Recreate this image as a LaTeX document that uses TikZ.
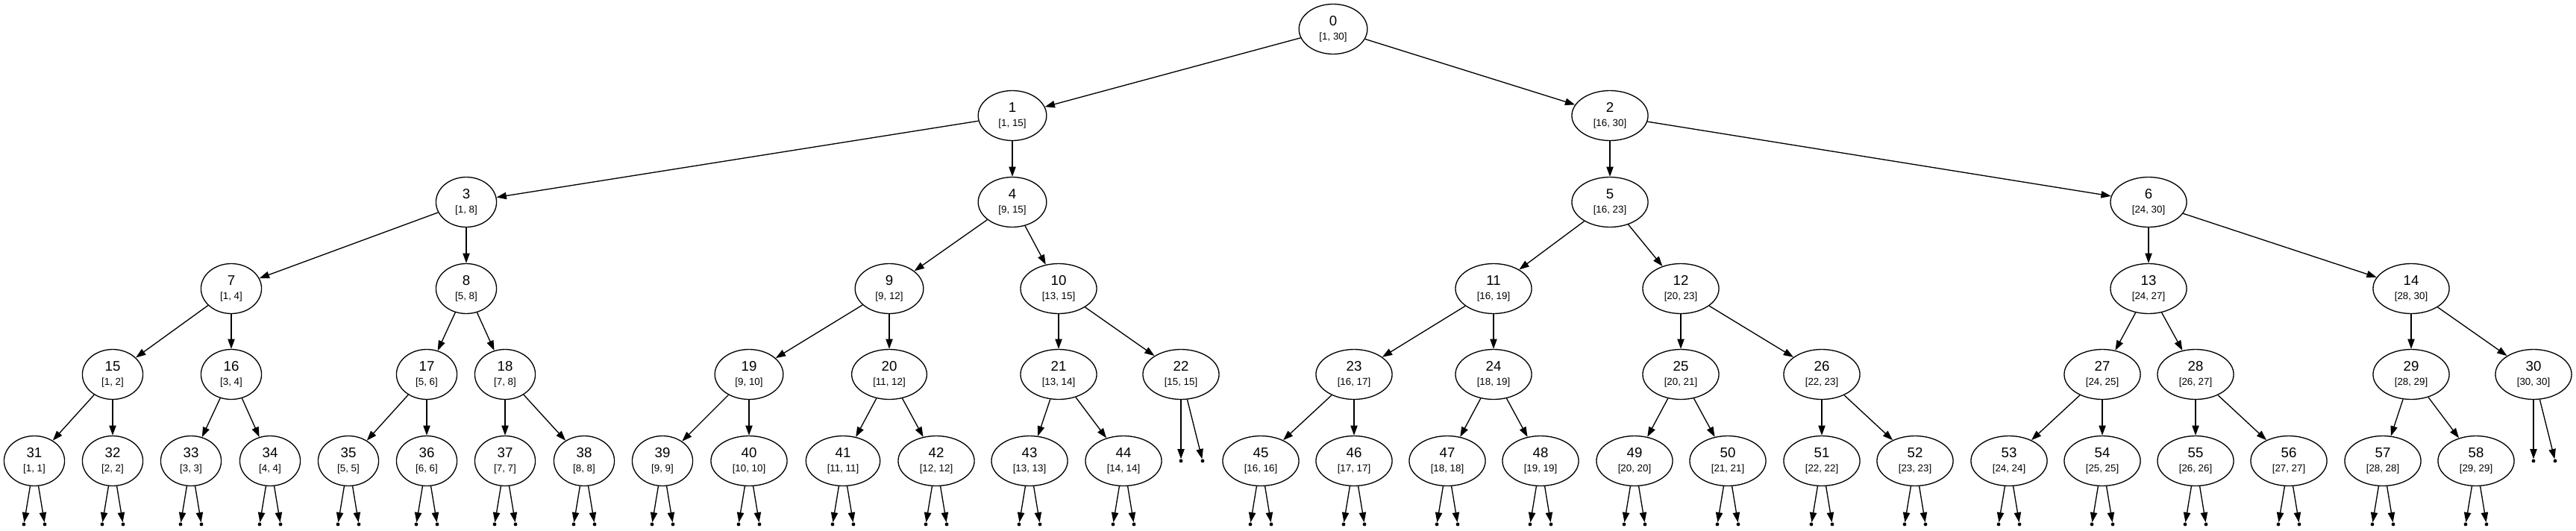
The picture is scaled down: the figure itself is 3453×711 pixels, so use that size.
\documentclass[tikz,border=0pt]{standalone}
\usepackage{fontspec}
\setmainfont{Liberation Sans}
\usetikzlibrary{shapes,arrows.meta}

\tikzset{
  seg/.style={ellipse,draw,line width=1pt,inner xsep=10.4pt,inner ysep=0pt,
    minimum height=50.25pt,align=center,font=\fontsize{14}{14.25}\selectfont},
  leafdot/.style={circle,fill,inner sep=0pt,minimum size=3.6pt},
  link/.style={-{Triangle[length=10pt,width=7pt]},line width=1pt}
}
\newcommand\rng[1]{{\fontsize{10}{14.25}\selectfont #1}}

\begin{document}
\begin{tikzpicture}[x=0.75pt,y=-0.75pt]
\useasboundingbox (0,0) rectangle (3453,711);
% level 0 - 2
\node[seg] (n0) at (1787,39) {0\\\rng{[1, 30]}};
\node[seg] (n1) at (1357,155) {1\\\rng{[1, 15]}};
\node[seg] (n2) at (2158,155) {2\\\rng{[16, 30]}};
\node[seg] (n3) at (625,271) {3\\\rng{[1, 8]}};
\node[seg] (n4) at (1357,271) {4\\\rng{[9, 15]}};
\node[seg] (n5) at (2158,271) {5\\\rng{[16, 23]}};
\node[seg] (n6) at (2880,271) {6\\\rng{[24, 30]}};
% level 3
\node[seg] (n7) at (310,387) {7\\\rng{[1, 4]}};
\node[seg] (n8) at (625,387) {8\\\rng{[5, 8]}};
\node[seg] (n9) at (1192,387) {9\\\rng{[9, 12]}};
\node[seg] (n10) at (1419,387) {10\\\rng{[13, 15]}};
\node[seg] (n11) at (2002,387) {11\\\rng{[16, 19]}};
\node[seg] (n12) at (2253,387) {12\\\rng{[20, 23]}};
\node[seg] (n13) at (2880,387) {13\\\rng{[24, 27]}};
\node[seg] (n14) at (3232,387) {14\\\rng{[28, 30]}};
% level 4
\node[seg] (n15) at (151,502) {15\\\rng{[1, 2]}};
\node[seg] (n16) at (310,502) {16\\\rng{[3, 4]}};
\node[seg] (n17) at (572,502) {17\\\rng{[5, 6]}};
\node[seg] (n18) at (677,502) {18\\\rng{[7, 8]}};
\node[seg] (n19) at (1004,502) {19\\\rng{[9, 10]}};
\node[seg] (n20) at (1192,502) {20\\\rng{[11, 12]}};
\node[seg] (n21) at (1419,502) {21\\\rng{[13, 14]}};
\node[seg] (n22) at (1583,502) {22\\\rng{[15, 15]}};
\node[seg] (n23) at (1815,502) {23\\\rng{[16, 17]}};
\node[seg] (n24) at (2002,502) {24\\\rng{[18, 19]}};
\node[seg] (n25) at (2253,502) {25\\\rng{[20, 21]}};
\node[seg] (n26) at (2442,502) {26\\\rng{[22, 23]}};
\node[seg] (n27) at (2818,502) {27\\\rng{[24, 25]}};
\node[seg] (n28) at (2943,502) {28\\\rng{[26, 27]}};
\node[seg] (n29) at (3232,502) {29\\\rng{[28, 29]}};
\node[seg] (n30) at (3396,502) {30\\\rng{[30, 30]}};
% level 5
\node[seg] (n31) at (46,618) {31\\\rng{[1, 1]}};
\node[seg] (n32) at (151,618) {32\\\rng{[2, 2]}};
\node[seg] (n33) at (256,618) {33\\\rng{[3, 3]}};
\node[seg] (n34) at (362,618) {34\\\rng{[4, 4]}};
\node[seg] (n35) at (467,618) {35\\\rng{[5, 5]}};
\node[seg] (n36) at (572,618) {36\\\rng{[6, 6]}};
\node[seg] (n37) at (677,618) {37\\\rng{[7, 7]}};
\node[seg] (n38) at (783,618) {38\\\rng{[8, 8]}};
\node[seg] (n39) at (888,618) {39\\\rng{[9, 9]}};
\node[seg] (n40) at (1004,618) {40\\\rng{[10, 10]}};
\node[seg] (n41) at (1130,618) {41\\\rng{[11, 11]}};
\node[seg] (n42) at (1255,618) {42\\\rng{[12, 12]}};
\node[seg] (n43) at (1380,618) {43\\\rng{[13, 13]}};
\node[seg] (n44) at (1506,618) {44\\\rng{[14, 14]}};
\node[seg] (n45) at (1690,618) {45\\\rng{[16, 16]}};
\node[seg] (n46) at (1815,618) {46\\\rng{[17, 17]}};
\node[seg] (n47) at (1940,618) {47\\\rng{[18, 18]}};
\node[seg] (n48) at (2065,618) {48\\\rng{[19, 19]}};
\node[seg] (n49) at (2191,618) {49\\\rng{[20, 20]}};
\node[seg] (n50) at (2316,618) {50\\\rng{[21, 21]}};
\node[seg] (n51) at (2442,618) {51\\\rng{[22, 22]}};
\node[seg] (n52) at (2567,618) {52\\\rng{[23, 23]}};
\node[seg] (n53) at (2693,618) {53\\\rng{[24, 24]}};
\node[seg] (n54) at (2818,618) {54\\\rng{[25, 25]}};
\node[seg] (n55) at (2943,618) {55\\\rng{[26, 26]}};
\node[seg] (n56) at (3068,618) {56\\\rng{[27, 27]}};
\node[seg] (n57) at (3194,618) {57\\\rng{[28, 28]}};
\node[seg] (n58) at (3319,618) {58\\\rng{[29, 29]}};
% tree edges
\foreach \p/\c in {0/1,0/2,1/3,1/4,2/5,2/6,3/7,3/8,4/9,4/10,5/11,5/12,6/13,6/14,
  7/15,7/16,8/17,8/18,9/19,9/20,10/21,10/22,11/23,11/24,12/25,12/26,13/27,13/28,
  14/29,14/30,15/31,15/32,16/33,16/34,17/35,17/36,18/37,18/38,19/39,19/40,20/41,
  20/42,21/43,21/44,23/45,23/46,24/47,24/48,25/49,25/50,26/51,26/52,27/53,27/54,
  28/55,28/56,29/57,29/58}
  \draw[link] (n\p) -- (n\c);
% empty children
\foreach \i/\x in {31/46,32/151,33/256,34/362,35/467,36/572,37/677,38/783,39/888,
  40/1004,41/1130,42/1255,43/1380,44/1506,45/1690,46/1815,47/1940,48/2065,49/2191,
  50/2316,51/2442,52/2567,53/2693,54/2818,55/2943,56/3068,57/3194,58/3319}{
  \node[leafdot] (l\i) at (\x-14,703) {};
  \node[leafdot] (r\i) at (\x+14,703) {};
  \draw[link] (n\i) -- (l\i);
  \draw[link] (n\i) -- (r\i);
}
\node[leafdot] (l22) at (1583,618) {};
\node[leafdot] (r22) at (1612,618) {};
\node[leafdot] (l30) at (3396,618) {};
\node[leafdot] (r30) at (3425,618) {};
\draw[link] (n22) -- (l22);
\draw[link] (n22) -- (r22);
\draw[link] (n30) -- (l30);
\draw[link] (n30) -- (r30);
\end{tikzpicture}
\end{document}
